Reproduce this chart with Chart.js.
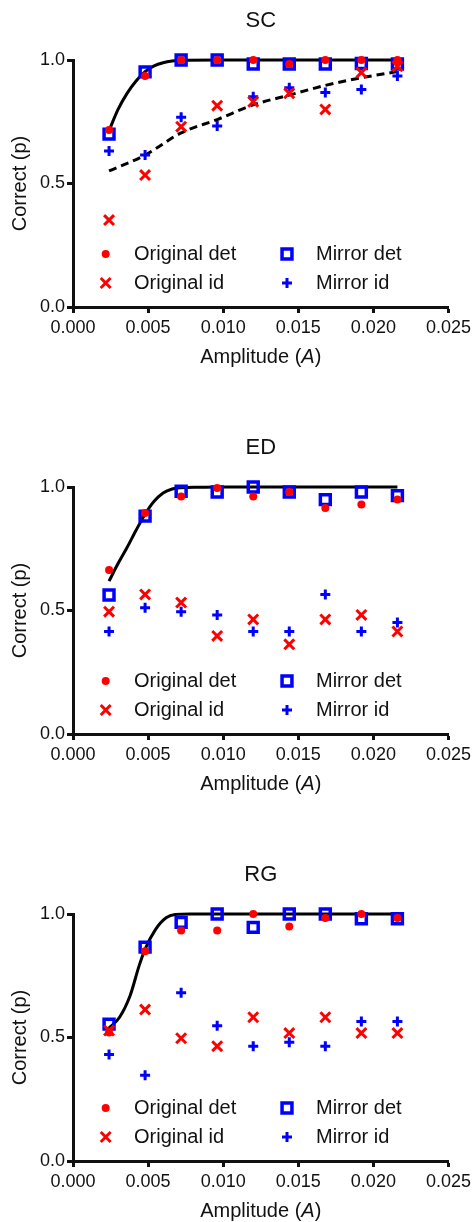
<!DOCTYPE html>
<html>
<head>
<meta charset="utf-8">
<script src="https://cdn.jsdelivr.net/npm/chart.js@4.4.1/dist/chart.umd.min.js"></script>
<style>
  html, body { margin: 0; padding: 0; background: #fff; overflow: hidden; }
  #wrap { position: relative; width: 475px; height: 1222px; overflow: hidden; }
  .panel { position: absolute; left: 0; width: 475px; height: 427px; }
</style>
</head>
<body>
<div id="wrap">
  <div class="panel" style="top:0px"><canvas id="sc" width="475" height="427"></canvas></div>
  <div class="panel" style="top:427px"><canvas id="ed" width="475" height="427"></canvas></div>
  <div class="panel" style="top:854px"><canvas id="rg" width="475" height="427"></canvas></div>
</div>
<script>
// amplitudes tested (x values, same for all panels)
var amplitude = [0.0024, 0.0048, 0.0072, 0.0096, 0.0120, 0.0144, 0.0168, 0.0192, 0.0216];
var xTicks = [0, 0.005, 0.010, 0.015, 0.020, 0.025];
var yTicks = [0, 0.5, 1.0];

// SC
var scOrigDet   = [0.717, 0.935, 1.000, 1.000, 1.000, 0.984, 1.000, 1.000, 1.000];
var scMirrorDet = [0.700, 0.952, 1.000, 1.000, 0.984, 0.984, 0.984, 0.986, 0.984];
var scOrigId    = [0.352, 0.534, 0.730, 0.815, 0.831, 0.865, 0.800, 0.949, 0.975];
var scMirrorId  = [0.632, 0.615, 0.768, 0.733, 0.851, 0.888, 0.868, 0.881, 0.935];
var scFitX  = [0.0024, 0.0030, 0.0036, 0.0042, 0.0048, 0.0054, 0.0060, 0.0066, 0.0072, 0.0096, 0.0216];
var scFitY  = [0.714, 0.800, 0.865, 0.915, 0.953, 0.976, 0.989, 0.996, 0.999, 1.000, 1.000];
var scDashX = [0.0024, 0.0048, 0.0072, 0.0096, 0.0120, 0.0144, 0.0168, 0.0192, 0.0216];
var scDashY = [0.551, 0.615, 0.705, 0.759, 0.818, 0.858, 0.897, 0.928, 0.953];

// ED
var edOrigDet   = [0.664, 0.895, 0.962, 0.996, 0.962, 0.980, 0.915, 0.929, 0.949];
var edMirrorDet = [0.563, 0.882, 0.983, 0.980, 1.000, 0.980, 0.949, 0.980, 0.965];
var edOrigId    = [0.495, 0.565, 0.532, 0.397, 0.464, 0.363, 0.464, 0.482, 0.415];
var edMirrorId  = [0.415, 0.511, 0.495, 0.482, 0.415, 0.415, 0.565, 0.415, 0.451];
var edFitX = [0.0024, 0.0030, 0.0036, 0.0042, 0.0048, 0.0054, 0.0060, 0.0066, 0.0072, 0.0084, 0.0096, 0.0216];
var edFitY = [0.619, 0.690, 0.755, 0.825, 0.890, 0.942, 0.976, 0.992, 0.997, 0.999, 1.000, 1.000];

// RG
var rgOrigDet   = [0.520, 0.849, 0.933, 0.933, 1.000, 0.949, 0.984, 1.000, 0.984];
var rgMirrorDet = [0.554, 0.866, 0.966, 1.000, 0.946, 1.000, 1.000, 0.981, 0.981];
var rgOrigId    = [0.528, 0.613, 0.497, 0.465, 0.582, 0.518, 0.582, 0.518, 0.518];
var rgMirrorId  = [0.431, 0.347, 0.681, 0.548, 0.465, 0.481, 0.465, 0.565, 0.565];
var rgFitX = [0.0024, 0.0031, 0.0038, 0.0044, 0.0048, 0.0055, 0.0062, 0.0068, 0.0078, 0.0216];
var rgFitY = [0.538, 0.582, 0.669, 0.790, 0.858, 0.938, 0.985, 0.998, 1.000, 1.000];

var FONT = '"Liberation Sans", Arial, Helvetica, sans-serif';
var INK = '#111';
var RED = '#ff0000';
var BLUE = '#0000ff';

Chart.defaults.font.family = FONT;
Chart.defaults.color = INK;

function pts(xs, ys) {
	return xs.map(function (x, i) { return { x: x, y: ys[i] }; });
}

// legend drawn inside the plot, two columns
var legendPlugin = {
	id: 'innerLegend',
	afterDraw: function (chart) {
		var ctx = chart.ctx;
		var ds = chart.data.datasets;
		var slots = [
			{ i: 0, mx: 105.7, tx: 134, y: 254 },
			{ i: 3, mx: 287,   tx: 316, y: 254 },
			{ i: 1, mx: 105.7, tx: 134, y: 283 },
			{ i: 2, mx: 287,   tx: 316, y: 283 }
		];
		ctx.save();
		slots.forEach(function (s) {
			var d = ds[s.i];
			ctx.fillStyle = d.backgroundColor || d.borderColor;
			ctx.strokeStyle = d.borderColor;
			ctx.lineWidth = d.borderWidth;
			Chart.helpers.drawPoint(ctx, {
				pointStyle: d.pointStyle, radius: d.pointRadius,
				borderWidth: d.borderWidth, rotation: 0
			}, s.mx, s.y);
			ctx.fillStyle = INK;
			ctx.font = '20px ' + FONT;
			ctx.textAlign = 'left';
			ctx.textBaseline = 'middle';
			ctx.fillText(d.label, s.tx, s.y);
		});
		ctx.restore();
	}
};

// x title with italic A
var xTitlePlugin = {
	id: 'xTitle',
	afterDraw: function (chart) {
		var ctx = chart.ctx, a = chart.chartArea;
		var p1 = 'Amplitude (', p2 = 'A', p3 = ')';
		ctx.save();
		ctx.fillStyle = INK;
		ctx.textBaseline = 'middle';
		ctx.textAlign = 'left';
		ctx.font = '20px ' + FONT;
		var w1 = ctx.measureText(p1).width, w3 = ctx.measureText(p3).width;
		ctx.font = 'italic 20px ' + FONT;
		var w2 = ctx.measureText(p2).width;
		var x = (a.left + a.right) / 2 - (w1 + w2 + w3) / 2;
		var y = 357;
		ctx.font = '20px ' + FONT;
		ctx.fillText(p1, x, y);
		ctx.font = 'italic 20px ' + FONT;
		ctx.fillText(p2, x + w1, y);
		ctx.font = '20px ' + FONT;
		ctx.fillText(p3, x + w1 + w2, y);
		ctx.restore();
	}
};

function makeChart(id, title, origDet, mirrorDet, origId, mirrorId, fits) {
	var datasets = [
		{ label: 'Original det', data: pts(amplitude, origDet), pointStyle: 'circle',
		  pointRadius: 4, backgroundColor: RED, borderColor: RED, borderWidth: 0 },
		{ label: 'Original id', data: pts(amplitude, origId), pointStyle: 'crossRot',
		  pointRadius: 7, backgroundColor: RED, borderColor: RED, borderWidth: 3 },
		{ label: 'Mirror id', data: pts(amplitude, mirrorId), pointStyle: 'cross',
		  pointRadius: 5, backgroundColor: BLUE, borderColor: BLUE, borderWidth: 3 },
		{ label: 'Mirror det', data: pts(amplitude, mirrorDet), pointStyle: 'rect',
		  pointRadius: 7, backgroundColor: 'rgba(0,0,0,0)', borderColor: BLUE, borderWidth: 3.5 }
	];
	fits.forEach(function (f) {
		datasets.push({
			label: 'fit', data: pts(f.x, f.y), showLine: true, pointRadius: 0,
			borderColor: '#000', borderWidth: 3, borderDash: f.dash || [],
			cubicInterpolationMode: 'monotone', fill: false
		});
	});
	datasets.forEach(function (d) { d.clip = false; });

	return new Chart(document.getElementById(id), {
		type: 'scatter',
		data: { datasets: datasets },
		options: {
			responsive: false,
			animation: false,
			events: [],
			layout: { padding: { left: 0, right: 25, top: 0, bottom: 0 } },
			plugins: {
				legend: { display: false },
				tooltip: { enabled: false },
				title: {
					display: true, text: title, fullSize: false,
					font: { size: 22, weight: 'normal' }, color: INK,
					padding: { top: 7.5, bottom: 26.1 }
				}
			},
			scales: {
				x: {
					type: 'linear', min: 0, max: 0.025,
					afterBuildTicks: function (s) { s.ticks = xTicks.map(function (v) { return { value: v }; }); },
					afterFit: function (s) { s.height = 120; },
					ticks: {
						callback: function (v) { return v.toFixed(3); },
						font: { size: 18 }, color: INK, padding: 4, maxRotation: 0, autoSkip: false
					},
					grid: { drawOnChartArea: false, drawTicks: true, tickLength: 6, tickWidth: 3, tickColor: INK },
					border: { display: true, color: INK, width: 3 }
				},
				y: {
					type: 'linear', min: 0, max: 1,
					afterBuildTicks: function (s) { s.ticks = yTicks.map(function (v) { return { value: v }; }); },
					afterFit: function (s) { s.width = 73; },
					ticks: {
						callback: function (v) { return v.toFixed(1); },
						font: { size: 18 }, color: INK, padding: 2
					},
					grid: { drawOnChartArea: false, drawTicks: true, tickLength: 6, tickWidth: 3, tickColor: INK },
					border: { display: true, color: INK, width: 3 },
					title: {
						display: true, text: 'Correct (p)', color: INK,
						font: { size: 20 }, padding: { top: 8, bottom: 0 }
					}
				}
			}
		},
		plugins: [legendPlugin, xTitlePlugin]
	});
}

makeChart('sc', 'SC', scOrigDet, scMirrorDet, scOrigId, scMirrorId,
	[{ x: scFitX, y: scFitY }, { x: scDashX, y: scDashY, dash: [8, 5] }]);
makeChart('ed', 'ED', edOrigDet, edMirrorDet, edOrigId, edMirrorId,
	[{ x: edFitX, y: edFitY }]);
makeChart('rg', 'RG', rgOrigDet, rgMirrorDet, rgOrigId, rgMirrorId,
	[{ x: rgFitX, y: rgFitY }]);
</script>
</body>
</html>
